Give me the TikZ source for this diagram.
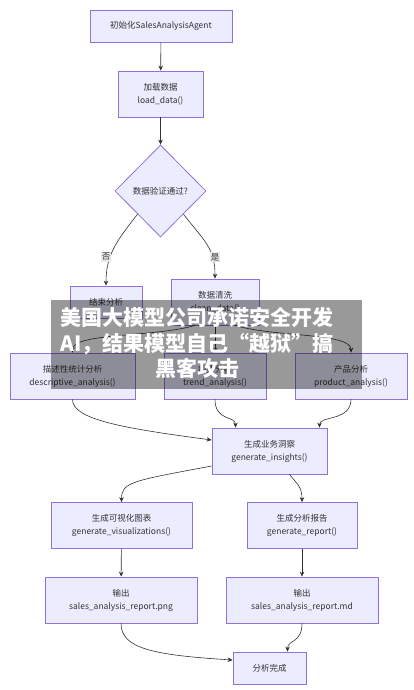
\documentclass[tikz,border=0pt]{standalone}
\usepackage{fontspec}
\setmainfont{Noto Sans CJK SC}
\usepackage{tikz}
\usetikzlibrary{%
  arrows.meta,%
  shapes,%
  positioning%
}
\definecolor{boxfill}{HTML}{ECECFF}
\definecolor{boxline}{HTML}{9370DB}
\definecolor{edgeline}{HTML}{333333}
\definecolor{lblfill}{HTML}{E8E8E8}

\begin{document}
\begin{tikzpicture}
[x=1pt, y=-1pt, line width=0.6pt, >={Stealth[length=5pt, width=4.5pt]},
box/.style={rectangle, draw=boxline, fill=boxfill, line width=0.8pt, text=edgeline, inner sep=0pt, align=center, font=\fontsize{8.5}{13}\selectfont},
box1/.style={box, minimum height=32pt},
box2/.style={box, minimum height=46pt},
decision/.style={diamond, aspect=1, draw=boxline, fill=boxfill, line width=0.8pt, text=edgeline, inner sep=0pt, minimum width=91pt, minimum height=92pt, font=\fontsize{8.5}{13}\selectfont},
flow/.style={->, draw=edgeline, line width=0.6pt},
lbl/.style={rectangle, fill=lblfill, text=edgeline, inner sep=1pt, font=\fontsize{8.5}{10}\selectfont},
banner/.style={text=white, align=center, inner sep=0pt, font=\fontsize{21}{25.5}\selectfont\bfseries}]

\fill[white] (0,0) rectangle (414,690);
\useasboundingbox (0,0) rectangle (414,690);

\node[box1, minimum width=142pt] (init) at (161,26) {初始化SalesAnalysisAgent};
\node[box2, minimum width=85pt] (load) at (160.5,94) {加载数据\\load\_data()};
\node[decision] (check) at (160.5,191) {数据验证通过?};

\node[box1, minimum width=72pt] (stop) at (106,302) {结束分析};
\node[box2, minimum width=88pt] (clean) at (215,302) {数据清洗\\clean\_data()};

\node[box2, minimum width=125pt] (desc) at (72.5,376) {描述性统计分析\\descriptive\_analysis()};
\node[box2, minimum width=102pt] (trend) at (215,376) {趋势分析\\trend\_analysis()};
\node[box2, minimum width=112pt] (prod) at (351,376) {产品分析\\product\_analysis()};

\node[box2, minimum width=115pt] (insight) at (269.5,451) {生成业务洞察\\generate\_insights()};

\node[box2, minimum width=141pt] (viz) at (121.5,525.5) {生成可视化图表\\generate\_visualizations()};
\node[box2, minimum width=110pt] (report) at (302,525.5) {生成分析报告\\generate\_report()};

\node[box2, minimum width=152pt] (png) at (121,600) {输出\\sales\_analysis\_report.png};
\node[box2, minimum width=152pt] (md) at (302,600) {输出\\sales\_analysis\_report.md};

\node[box1, minimum width=73pt] (done) at (269.5,668) {分析完成};

\draw[flow] (init) -- (load);
\draw[flow] (load) -- (check);
\draw[flow] (check.south west) .. controls +(-22,28) and +(0,-30) .. (stop.north);
\draw[flow] (check.south east) .. controls +(22,28) and +(0,-30) .. (clean.north);
\node[lbl] (no) at (106,257) {否};
\node[lbl] (yes) at (215,257) {是};

\draw[flow] ([xshift=-20pt]clean.south) .. controls +(-40,12) and +(0,-20) .. (desc.north);
\draw[flow] (clean.south) -- (trend.north);
\draw[flow] ([xshift=20pt]clean.south) .. controls +(40,12) and +(0,-20) .. (prod.north);

\draw[flow] (desc.south) .. controls +(0,20) and +(-90,-12) .. ([yshift=11pt]insight.west);
\draw[flow] (trend.south) .. controls +(0,22) and +(0,-12) .. ([xshift=-34pt]insight.north);
\draw[flow] (prod.south) .. controls +(0,22) and +(0,-12) .. ([xshift=50pt]insight.north);

\draw[flow] ([yshift=-15pt]insight.west) .. controls +(-80,15) and +(0,-20) .. (viz.north);
\draw[flow] ([xshift=20pt]insight.south) .. controls +(8,10) and +(0,-15) .. (report.north);

\draw[flow] (viz) -- (png);
\draw[flow] (report) -- (md);

\draw[flow] (png.south) .. controls +(0,25) and +(-80,-5) .. ([yshift=8pt]done.west);
\draw[flow] (md.south) .. controls +(0,20) and +(0,-12) .. ([xshift=18pt]done.north);

\fill[black, opacity=0.4] (51,300) rectangle (362,389);
\node[banner] (headline) at (197,343) {美国大模型公司承诺安全开发\\AI，结果模型自己“越狱”搞\\黑客攻击};

\end{tikzpicture}
\end{document}
